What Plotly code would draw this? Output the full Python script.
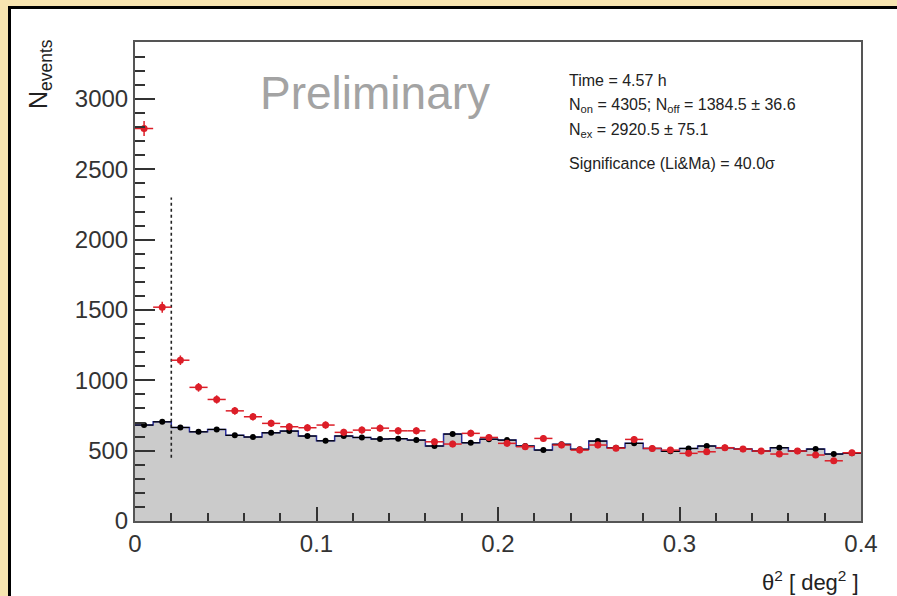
import numpy as np
import plotly.graph_objects as go

# ---- data -------------------------------------------------------------
bin_edges = np.linspace(0.0, 0.4, 41)          # theta^2 bins [deg^2]

on_counts = [2790, 1520, 1143, 950, 864, 783, 741, 694, 670, 663,
             682, 630, 646, 660, 641, 641, 563, 547, 623, 594,
             552, 528, 587, 540, 504, 540, 518, 580, 516, 504,
             481, 492, 521, 511, 497, 476, 497, 469, 428, 485]

off_counts = [682, 705, 665, 634, 651, 609, 597, 627, 639, 604,
              570, 604, 594, 583, 585, 575, 533, 618, 556, 582,
              575, 533, 504, 545, 510, 568, 520, 552, 516, 495,
              516, 533, 521, 511, 497, 521, 497, 511, 476, 482]

theta2_cut = 0.02
cut_line_span = [450, 2300]

info_lines = [
    "Time = 4.57 h",
    "N<sub>on</sub> = 4305; N<sub>off</sub> = 1384.5 \u00b1 36.6",
    "N<sub>ex</sub> = 2920.5 \u00b1 75.1",
    "Significance (Li&Ma) = 40.0\u03c3",
]

# ---- geometry ---------------------------------------------------------
W, H = 897, 596
L, R, T, B = 135, 861, 42, 521.5
FONT = "Liberation Sans, Arial, Helvetica, sans-serif"
FRAME_BG = "#f7e4b0"


def px(xp):
    return (xp - L) / (R - L)


def py(yp):
    return (B - yp) / (B - T)


centers = 0.5 * (bin_edges[:-1] + bin_edges[1:])
half_w = 0.5 * np.diff(bin_edges)
on_err = np.sqrt(on_counts)
off_err = np.sqrt(off_counts) * 0.5

fig = go.Figure()

# OFF histogram as a filled step line
step_x = list(bin_edges)
step_y = list(off_counts) + [off_counts[-1]]
fig.add_trace(go.Scatter(
    x=step_x, y=step_y, mode="lines",
    line=dict(shape="hv", color="#2b2f9e", width=1.5),
    fill="tozeroy", fillcolor="#cbcbcb", hoverinfo="skip",
))

# theta^2 cut
fig.add_trace(go.Scatter(
    x=[theta2_cut, theta2_cut], y=cut_line_span, mode="lines",
    line=dict(color="#222222", width=1.6, dash="3px,3px"), hoverinfo="skip",
))

# OFF points
fig.add_trace(go.Scatter(
    x=centers, y=off_counts, mode="markers",
    marker=dict(color="black", size=6),
    error_x=dict(type="data", array=half_w, width=0, color="black", thickness=1.2),
    error_y=dict(type="data", array=off_err, width=0, color="black", thickness=1.2),
))

# ON points
fig.add_trace(go.Scatter(
    x=centers, y=on_counts, mode="markers",
    marker=dict(color="#dc1e28", size=7),
    error_x=dict(type="data", array=half_w, width=0, color="#dc1e28", thickness=1.5),
    error_y=dict(type="data", array=on_err, width=0, color="#dc1e28", thickness=1.5),
))

annotations = [
    dict(text="Preliminary", x=px(375), y=py(93), xref="paper", yref="paper",
         showarrow=False, font=dict(family=FONT, size=46, color="#a3a3a3"),
         xanchor="center", yanchor="middle"),
    dict(text="N<sub>events</sub>", x=px(40), y=py(37), xref="paper", yref="paper",
         showarrow=False, textangle=-90, font=dict(family=FONT, size=25, color="#222222"),
         xanchor="center", yanchor="top"),
    dict(text="\u03b8<sup>2</sup> [ deg<sup>2</sup> ]", x=px(861), y=py(582),
         xref="paper", yref="paper", showarrow=False,
         font=dict(family=FONT, size=22, color="#222222"),
         xanchor="right", yanchor="middle"),
]
for line, ypix in zip(info_lines, [81, 106, 131, 164]):
    annotations.append(dict(
        text=line, x=px(567), y=py(ypix), xref="paper", yref="paper",
        showarrow=False, font=dict(family=FONT, size=16, color="#222222"),
        xanchor="left", yanchor="middle"))

# tinted strips along the top and left edges, each with a dark inner edge
shapes = [
    dict(type="rect", xref="paper", yref="paper", layer="below",
         x0=px(-20), x1=px(W + 20), y0=py(7.5), y1=py(-20),
         fillcolor=FRAME_BG, line=dict(width=0)),
    dict(type="rect", xref="paper", yref="paper", layer="below",
         x0=px(-20), x1=px(9.5), y0=py(H + 20), y1=py(-20),
         fillcolor=FRAME_BG, line=dict(width=0)),
    dict(type="line", xref="paper", yref="paper", layer="below",
         x0=px(8), x1=px(W + 20), y0=py(7.5), y1=py(7.5),
         line=dict(color="black", width=3)),
    dict(type="line", xref="paper", yref="paper", layer="below",
         x0=px(9.5), x1=px(9.5), y0=py(6), y1=py(H + 20),
         line=dict(color="black", width=3)),
]

axis_font = dict(family=FONT, size=24, color="#333333")

fig.update_layout(
    width=W, height=H,
    margin=dict(l=L, r=W - R, t=T, b=H - B, pad=0),
    paper_bgcolor="white",
    plot_bgcolor="white",
    showlegend=False,
    annotations=annotations,
    shapes=shapes,
    xaxis=dict(
        range=[0, 0.4], tickvals=[0, 0.1, 0.2, 0.3, 0.4],
        ticktext=["0", "0.1", "0.2", "0.3", "0.4"],
        ticks="inside", ticklen=14, tickwidth=1.5, tickcolor="#333333",
        minor=dict(ticks="inside", ticklen=8, tickwidth=1.5, tickcolor="#333333",
                   dtick=0.02, tick0=0, showgrid=False),
        showgrid=False, zeroline=False,
        showline=True, linecolor="#555555", linewidth=2, mirror=True,
        tickfont=axis_font,
    ),
    yaxis=dict(
        range=[0, 3405], dtick=500, tick0=0,
        ticks="inside", ticklen=20, tickwidth=1.5, tickcolor="#333333",
        minor=dict(ticks="inside", ticklen=10, tickwidth=1.5, tickcolor="#333333",
                   dtick=100, tick0=0, showgrid=False),
        showgrid=False, zeroline=False,
        showline=True, linecolor="#555555", linewidth=2, mirror=True,
        tickfont=axis_font,
    ),
)

fig.write_html("out.html")
